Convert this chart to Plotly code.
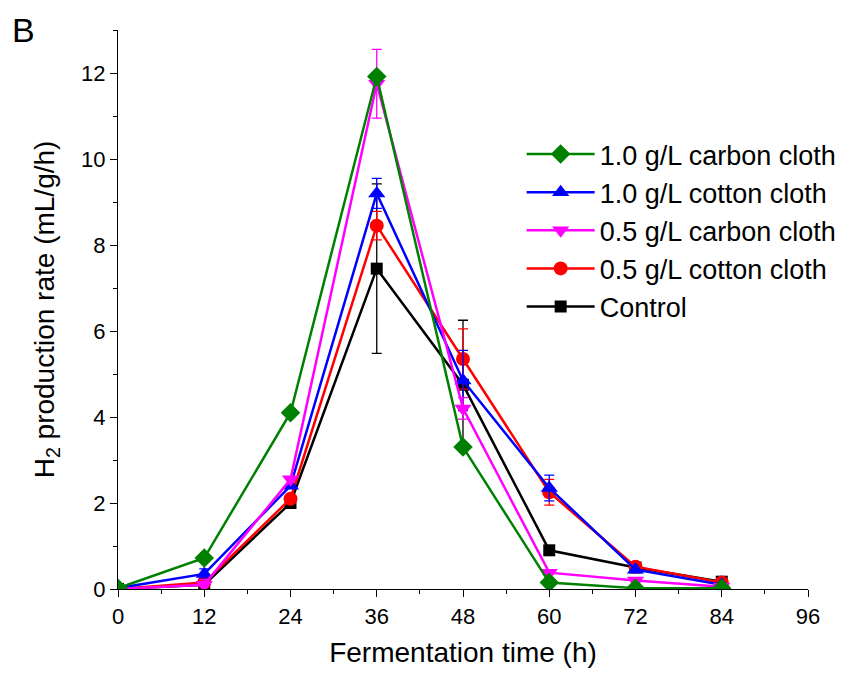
import plotly.graph_objects as go

time_h = [0, 12, 24, 36, 48, 60, 72, 84]

carbon_10 = [0.02, 0.72, 4.10, 11.92, 3.30, 0.15, 0.02, 0.02]
carbon_10_err = [0, 0, 0, 0.05, 0.08, 0, 0, 0]
cotton_10 = [0.02, 0.35, 2.40, 9.20, 4.85, 2.35, 0.45, 0.10]
cotton_10_err = [0, 0.12, 0, 0.35, 0.70, 0.30, 0, 0]
carbon_05 = [0.00, 0.10, 2.55, 11.75, 4.20, 0.38, 0.20, 0.05]
carbon_05_err = [0, 0.12, 0, 0.80, 0.25, 0, 0.05, 0]
cotton_05 = [0.00, 0.15, 2.10, 8.45, 5.35, 2.25, 0.52, 0.15]
cotton_05_err = [0, 0, 0, 0.33, 0.70, 0.30, 0, 0]
control = [0.00, 0.10, 2.00, 7.45, 4.75, 0.90, 0.50, 0.17]
control_err = [0, 0, 0, 1.97, 1.50, 0, 0, 0]

series = [
    ("Control", control, control_err, "black", "square", 12, 5),
    ("0.5 g/L cotton cloth", cotton_05, cotton_05_err, "red", "circle", 14, 4),
    ("1.0 g/L cotton cloth", cotton_10, cotton_10_err, "blue", "triangle-up", 15, 2),
    ("0.5 g/L carbon cloth", carbon_05, carbon_05_err, "magenta", "triangle-down", 15, 3),
    ("1.0 g/L carbon cloth", carbon_10, carbon_10_err, "green", "diamond", 15, 1),
]

FONT = "Liberation Sans, Arial"

fig = go.Figure()
for name, ys, err, col, sym, sz, rank in series:
    fig.add_trace(go.Scatter(
        x=time_h, y=ys, name=name, mode="lines+markers",
        line=dict(color=col, width=2.5),
        marker=dict(color=col, symbol=sym, size=sz),
        error_y=dict(type="data", array=err, visible=True, color=col, thickness=1.3, width=5),
        legendrank=rank,
    ))

axis_common = dict(
    showline=True, linecolor="black", linewidth=1.3, mirror=False,
    ticks="outside", ticklen=7, tickwidth=1.3, tickcolor="black",
    showgrid=False, zeroline=False, automargin=False,
    tickfont=dict(family=FONT, size=22, color="black"),
    title_font=dict(family=FONT, size=28, color="black"),
    minor=dict(ticks="outside", ticklen=4, tickwidth=1.3, tickcolor="black"),
)

fig.update_xaxes(range=[0, 96], tickvals=[0, 12, 24, 36, 48, 60, 72, 84, 96],
                 minor_dtick=6, minor_tick0=0,
                 title_text="Fermentation time (h)", title_standoff=14, **axis_common)
fig.update_yaxes(range=[0, 13], tickvals=[0, 2, 4, 6, 8, 10, 12],
                 minor_dtick=1, minor_tick0=0,
                 title_text="H<sub>2</sub> production rate (mL/g/h)", title_standoff=18, **axis_common)

fig.update_layout(
    width=848, height=672,
    margin=dict(l=110, r=48, t=22, b=91),
    plot_bgcolor="white", paper_bgcolor="white",
    font=dict(family=FONT, color="black"),
    legend=dict(x=0.585, y=0.821, xanchor="left", yanchor="top",
                font=dict(family=FONT, size=27, color="black"), bgcolor="rgba(0,0,0,0)",
                itemwidth=68, tracegroupgap=0),
    showlegend=True,
)
fig.add_annotation(text="B", xref="paper", yref="paper", x=-0.1565, y=1.038,
                   xanchor="left", yanchor="top", showarrow=False,
                   font=dict(size=34, color="black", family=FONT))

fig.write_html("out.html")
